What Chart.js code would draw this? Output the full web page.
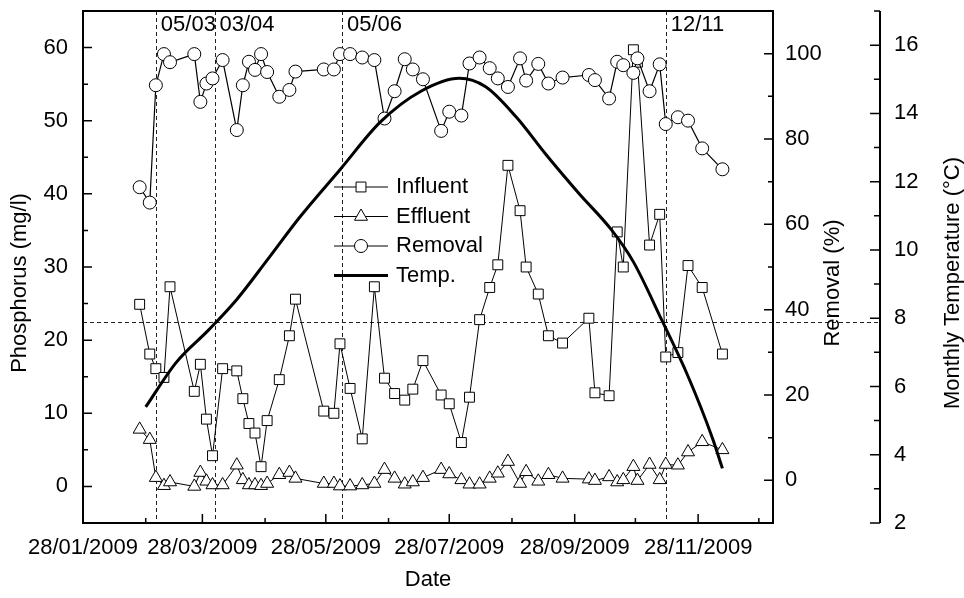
<!DOCTYPE html>
<html>
<head>
<meta charset="utf-8">
<script src="https://cdn.jsdelivr.net/npm/chart.js@4.4.1/dist/chart.umd.min.js"></script>
<style>
  html, body { margin: 0; padding: 0; background: #fff; }
  #wrap { width: 964px; height: 598px; }
</style>
</head>
<body>
<div id="wrap"><canvas id="chart" width="964" height="598"></canvas></div>
<script>
// ── Data (x = day of year 2009) ───────────────────────────────────────────────
const sampleDays = [56, 61, 64, 68, 71, 83, 86, 89, 92, 97,
                    104, 107, 110, 113, 116, 119, 125, 130, 133, 147,
                    152, 155, 160, 166, 172, 177, 182, 187, 191, 196,
                    205, 209, 215, 219, 224, 229, 233, 238, 244, 247,
                    253, 258, 265, 278, 281, 288, 292, 295, 300, 302,
                    308, 313, 316, 322, 327, 334, 344];

const influent = [24.9, 18.1, 16.1, 14.9, 27.3, 13.0, 16.7, 9.2, 4.2, 16.1,
                  15.8, 12.0, 8.6, 7.3, 2.7, 9.0, 14.6, 20.6, 25.6, 10.3,
                  10.0, 19.5, 13.4, 6.5, 27.3, 14.8, 12.7, 11.8, 13.3, 17.2,
                  12.5, 11.3, 6.0, 12.2, 22.8, 27.2, 30.3, 43.9, 37.7, 30.0,
                  26.3, 20.6, 19.6, 23.0, 12.8, 12.4, 34.8, 30.0, 59.7, 58.0,
                  33.0, 37.2, 17.7, 18.3, 30.2, 27.2, 18.1];

const effluent = [7.8, 6.4, 1.2, 0.1, 0.6, 0.0, 1.9, 0.7, 0.2, 0.2,
                  2.9, 0.9, 0.2, 0.2, 0.1, 0.4, 1.6, 1.9, 1.1, 0.4,
                  0.4, 0.05, 0.05, 0.2, 0.4, 2.3, 1.1, 0.3, 0.6, 1.2,
                  2.3, 1.7, 0.9, 0.3, 0.3, 1.1, 1.8, 3.4, 0.4, 2.0,
                  0.7, 1.6, 1.1, 1.0, 0.8, 1.3, 0.6, 0.9, 2.7, 0.8,
                  3.0, 0.9, 3.0, 2.9, 4.7, 6.1, 5.0];

const removal = [68.7, 65.1, 92.6, 99.9, 98.0, 99.9, 88.7, 93.0, 94.2, 98.5,
                 82.1, 92.6, 98.1, 96.2, 99.9, 95.7, 89.9, 91.5, 95.8, 96.3,
                 96.3, 99.9, 99.9, 99.1, 98.5, 84.8, 91.2, 98.7, 96.3, 94.0,
                 81.9, 86.4, 85.5, 97.7, 99.1, 96.6, 94.2, 92.2, 98.9, 93.7,
                 97.6, 93.0, 94.4, 95.0, 93.8, 89.5, 98.1, 97.3, 95.5, 98.9,
                 91.2, 97.5, 83.5, 85.1, 84.3, 77.8, 72.9];

const tempDays   = [59, 74, 90, 104, 119, 135, 155, 175, 195, 214,
                    227, 242, 257, 273, 289, 300, 314, 327, 339, 344];
const tempValues = [5.4, 6.7, 7.65, 8.55, 9.7, 10.95, 12.35, 13.75, 14.65, 15.03,
                    14.78, 13.9, 12.78, 11.66, 10.6, 9.65, 7.95, 6.3, 4.5, 3.6];

// ── Ticks / reference marks ───────────────────────────────────────────────────
const xMajorDays   = [28, 87, 148, 209, 271, 332];   // 28th of Jan, Mar, May...
const xMinorDays   = [59, 118, 179, 240, 301, 362];
const phosTicks    = [0, 10, 20, 30, 40, 50, 60];
const phosMinor    = [5, 15, 25, 35, 45, 55];
const removalTicks = [0, 20, 40, 60, 80, 100];
const removalMinor = [10, 30, 50, 70, 90];
const tempTicks    = [2, 4, 6, 8, 10, 12, 14, 16];
const tempMinor    = [3, 5, 7, 9, 11, 13, 15, 17];
const markerDays   = [64, 93, 156, 316];
const markerLabels = ["05/03", "03/04", "05/06", "12/11"];
const tempRefLine  = 7.9;

const FONT = "'Liberation Sans', Arial, sans-serif";
const FS = 22;

// ── Helpers ───────────────────────────────────────────────────────────────────
function dayLabel(d) {
  const dt = new Date(2009, 0, d);
  return `${String(dt.getDate()).padStart(2, "0")}/${String(dt.getMonth() + 1).padStart(2, "0")}/${dt.getFullYear()}`;
}

function toPoints(xs, ys) {
  return xs.map((x, i) => ({ x, y: ys[i] }));
}

function fixedTicks(values) {
  return (s) => { s.ticks = values.map((v) => ({ value: v })); };
}

function fixSize(prop, size) {
  return (s) => {
    s[prop] = size;
    s.paddingTop = s.paddingBottom = s.paddingLeft = s.paddingRight = 0;
  };
}

function vTitle(ctx, text, x, y) {
  ctx.save();
  ctx.translate(x, y);
  ctx.rotate(-Math.PI / 2);
  ctx.textAlign = "center";
  ctx.textBaseline = "middle";
  ctx.fillText(text, 0, 0);
  ctx.restore();
}

const markerStyle = {
  Influent: { pointStyle: "rect",     radius: 7 },
  Effluent: { pointStyle: "triangle", radius: 7.5 },
  Removal:  { pointStyle: "circle",   radius: 6.5 },
};

// ── Decorations: frame, inward ticks, dashed refs, legend, titles ─────────────
const decorPlugin = {
  id: "decor",
  beforeDatasetsDraw(chart) {
    const { ctx, chartArea: a, scales } = chart;
    ctx.save();
    ctx.strokeStyle = "#222";
    ctx.lineWidth = 1;
    ctx.setLineDash([4, 3]);
    markerDays.forEach((d) => {
      const x = Math.round(scales.x.getPixelForValue(d)) + 0.5;
      ctx.beginPath(); ctx.moveTo(x, a.top); ctx.lineTo(x, a.bottom); ctx.stroke();
    });
    const y = Math.round(scales.yTemp.getPixelForValue(tempRefLine)) + 0.5;
    ctx.beginPath(); ctx.moveTo(a.left, y); ctx.lineTo(scales.yTemp.left, y); ctx.stroke();
    ctx.restore();
  },
  afterDraw(chart) {
    const { ctx, chartArea: a, scales } = chart;
    const { x: sx, y: sy, yRem, yTemp } = scales;
    ctx.save();
    ctx.strokeStyle = "#000";
    ctx.fillStyle = "#000";

    // frame
    ctx.lineWidth = 2;
    ctx.strokeRect(a.left, a.top, a.right - a.left, a.bottom - a.top);

    // temperature axis line
    const tx = yTemp.left;
    ctx.beginPath(); ctx.moveTo(tx, a.top); ctx.lineTo(tx, a.bottom); ctx.stroke();

    // ticks
    ctx.lineWidth = 1.5;
    ctx.beginPath();
    phosTicks.forEach((v) => { const p = sy.getPixelForValue(v); ctx.moveTo(a.left, p); ctx.lineTo(a.left + 9, p); });
    phosMinor.forEach((v) => { const p = sy.getPixelForValue(v); ctx.moveTo(a.left, p); ctx.lineTo(a.left + 5, p); });
    removalTicks.forEach((v) => { const p = yRem.getPixelForValue(v); ctx.moveTo(a.right, p); ctx.lineTo(a.right - 9, p); });
    removalMinor.forEach((v) => { const p = yRem.getPixelForValue(v); ctx.moveTo(a.right, p); ctx.lineTo(a.right - 5, p); });
    tempTicks.forEach((v) => { const p = yTemp.getPixelForValue(v); ctx.moveTo(tx, p); ctx.lineTo(tx - 10, p); });
    tempMinor.forEach((v) => { const p = yTemp.getPixelForValue(v); ctx.moveTo(tx, p); ctx.lineTo(tx - 6, p); });
    xMajorDays.forEach((v) => { const p = sx.getPixelForValue(v); ctx.moveTo(p, a.bottom); ctx.lineTo(p, a.bottom - 9); });
    xMinorDays.forEach((v) => { const p = sx.getPixelForValue(v); ctx.moveTo(p, a.bottom); ctx.lineTo(p, a.bottom - 5); });
    ctx.stroke();

    // date annotations
    ctx.font = `${FS}px ${FONT}`;
    ctx.textBaseline = "middle";
    ctx.textAlign = "left";
    markerDays.forEach((d, i) => {
      ctx.fillText(markerLabels[i], sx.getPixelForValue(d) + 5, a.top + 14);
    });

    // legend
    const lx = 334, ly = 187, step = 29.5;
    ["Influent", "Effluent", "Removal", "Temp."].forEach((name, i) => {
      const y = ly + i * step;
      ctx.beginPath();
      ctx.lineWidth = name === "Temp." ? 3 : 1;
      ctx.moveTo(lx, y); ctx.lineTo(lx + 54, y);
      ctx.stroke();
      const m = markerStyle[name];
      if (m) {
        ctx.fillStyle = "#fff";
        ctx.lineWidth = 1;
        Chart.helpers.drawPoint(ctx, { pointStyle: m.pointStyle, radius: m.radius, rotation: 0, borderWidth: 1 }, lx + 27, y);
        ctx.fillStyle = "#000";
      }
      ctx.fillText(name, lx + 62, y);
    });

    // vertical axis titles
    const cy = (a.top + a.bottom) / 2 + 16;
    vTitle(ctx, "Phosphorus (mg/l)", 20, cy);
    vTitle(ctx, "Removal (%)", yRem.left + 60, cy);
    vTitle(ctx, "Monthly Temperature (°C)", yTemp.left + 73, cy);
    ctx.restore();
  },
};

// ── Chart ─────────────────────────────────────────────────────────────────────
Chart.defaults.font.family = FONT;
Chart.defaults.color = "#000";

const markerDataset = (label, data, axis, order) => ({
  label,
  data,
  yAxisID: axis,
  order,
  borderColor: "#000",
  borderWidth: label === "Removal" ? 1.2 : 1,
  pointStyle: markerStyle[label].pointStyle,
  pointRadius: markerStyle[label].radius,
  pointBackgroundColor: "#fff",
  pointBorderColor: "#000",
  pointBorderWidth: 1,
  tension: 0,
});

new Chart(document.getElementById("chart"), {
  type: "line",
  data: {
    datasets: [
      {
        label: "Temp.",
        data: toPoints(tempDays, tempValues),
        yAxisID: "yTemp",
        order: 0,
        borderColor: "#000",
        borderWidth: 3,
        pointRadius: 0,
        cubicInterpolationMode: "monotone",
      },
      markerDataset("Removal", toPoints(sampleDays, removal), "yRem", 1),
      markerDataset("Influent", toPoints(sampleDays, influent), "y", 2),
      markerDataset("Effluent", toPoints(sampleDays, effluent), "y", 3),
    ],
  },
  options: {
    responsive: false,
    animation: false,
    devicePixelRatio: 1,
    events: [],
    layout: { padding: { top: 11 } },
    plugins: { legend: { display: false }, tooltip: { enabled: false } },
    scales: {
      x: {
        type: "linear",
        min: 28,
        max: 369,
        afterBuildTicks: fixedTicks(xMajorDays),
        afterFit: fixSize("height", 75),
        grid: { display: false, drawTicks: false },
        border: { display: false },
        ticks: { callback: (v) => dayLabel(v), font: { size: FS }, padding: 12, maxRotation: 0, autoSkip: false },
        title: { display: true, text: "Date", font: { size: FS }, padding: { top: 0, bottom: 5 } },
      },
      y: {
        position: "left",
        min: -5,
        max: 65,
        afterBuildTicks: fixedTicks(phosTicks),
        afterFit: fixSize("width", 83),
        grid: { display: false, drawTicks: false },
        border: { display: false },
        ticks: { callback: (v) => String(v), font: { size: FS }, padding: 15 },
      },
      yRem: {
        position: "right",
        weight: 0,
        min: -10,
        max: 110,
        afterBuildTicks: fixedTicks(removalTicks),
        afterFit: fixSize("width", 107),
        grid: { display: false, drawTicks: false },
        border: { display: false },
        ticks: { callback: (v) => String(v), font: { size: FS }, padding: 12 },
      },
      yTemp: {
        position: "right",
        weight: 1,
        min: 2,
        max: 17,
        afterBuildTicks: fixedTicks(tempTicks),
        afterFit: fixSize("width", 84),
        grid: { display: false, drawTicks: false },
        border: { display: false },
        ticks: { callback: (v) => String(v), font: { size: FS }, padding: 14 },
      },
    },
  },
  plugins: [decorPlugin],
});
</script>
</body>
</html>
